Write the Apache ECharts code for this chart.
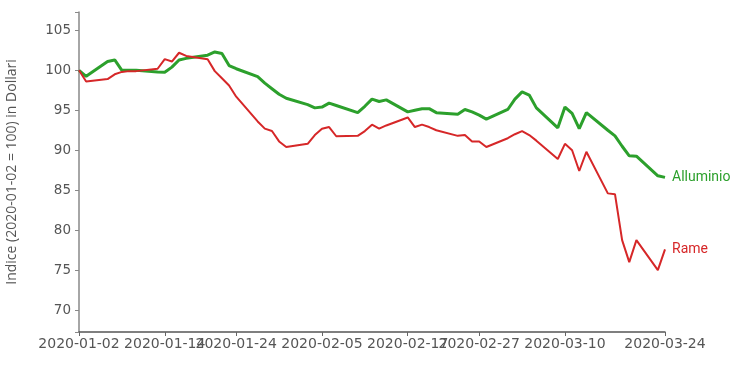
<!DOCTYPE html>
<html lang="it">
<head>
    <meta charset="UTF-8">
    <title>Alluminio e Rame</title>
    <style>
        html, body { margin: 0; padding: 0; background: #fff; }
        #main { width: 741px; height: 370px; }
    </style>
</head>
<body>
<div id="main"></div>
<script src="https://cdn.jsdelivr.net/npm/echarts@6/dist/echarts.min.js"></script>
<script>
    // giorni lavorativi (date dei punti)
    var dates = [
        '2020-01-02','2020-01-03','2020-01-06','2020-01-07','2020-01-08','2020-01-09','2020-01-10',
        '2020-01-13','2020-01-14','2020-01-15','2020-01-16','2020-01-17',
        '2020-01-20','2020-01-21','2020-01-22','2020-01-23','2020-01-24',
        '2020-01-27','2020-01-28','2020-01-29','2020-01-30','2020-01-31',
        '2020-02-03','2020-02-04','2020-02-05','2020-02-06','2020-02-07',
        '2020-02-10','2020-02-11','2020-02-12','2020-02-13','2020-02-14',
        '2020-02-17','2020-02-18','2020-02-19','2020-02-20','2020-02-21',
        '2020-02-24','2020-02-25','2020-02-26','2020-02-27','2020-02-28',
        '2020-03-02','2020-03-03','2020-03-04','2020-03-05','2020-03-06',
        '2020-03-09','2020-03-10','2020-03-11','2020-03-12','2020-03-13',
        '2020-03-16','2020-03-17','2020-03-18','2020-03-19','2020-03-20',
        '2020-03-23','2020-03-24'
    ];
    var alluminio = [
        100.0, 99.25, 101.1, 101.3, 100.0, 100.0, 100.0,
        99.8, 99.75, 100.4, 101.3, 101.5,
        101.9, 102.3, 102.1, 100.6, 100.2,
        99.2, 98.4, 97.7, 97.0, 96.5,
        95.7, 95.3, 95.4, 95.9, 95.6,
        94.7, 95.5, 96.4, 96.1, 96.3,
        94.8, 95.0, 95.2, 95.2, 94.7,
        94.5, 95.1, 94.8, 94.4, 93.9,
        95.1, 96.4, 97.3, 96.9, 95.3,
        92.8, 95.4, 94.6, 92.7, 94.7,
        92.5, 91.8, 90.5, 89.3, 89.25,
        86.8, 86.6
    ];
    var rame = [
        100.0, 98.6, 98.9, 99.5, 99.8, 99.9, 99.9,
        100.2, 101.4, 101.1, 102.2, 101.8,
        101.4, 99.9, 99.0, 98.1, 96.7,
        93.6, 92.7, 92.4, 91.1, 90.4,
        90.8, 91.9, 92.7, 92.9, 91.75,
        91.8, 92.4, 93.2, 92.7, 93.1,
        94.1, 92.9, 93.2, 92.9, 92.5,
        91.8, 91.9, 91.1, 91.1, 90.4,
        91.5, 92.0, 92.4, 91.9, 91.2,
        88.9, 90.8, 90.0, 87.4, 89.8,
        84.6, 84.5, 78.75, 76.0, 78.75,
        75.0, 77.6
    ];
    var xTickDates = ['2020-01-02','2020-01-14','2020-01-24','2020-02-05','2020-02-17','2020-02-27','2020-03-10','2020-03-24'];
    var yTicks = [70, 75, 80, 85, 90, 95, 100, 105];
    var yMin = 67.25, yMax = 107.3;

    // giorni dal primo punto
    var DAY = 86400000;
    function dayNum(s) {
        var p = s.split('-');
        return Date.UTC(+p[0], +p[1] - 1, +p[2]);
    }
    var t0 = dayNum(dates[0]);
    function toX(s) { return (dayNum(s) - t0) / DAY; }
    function toDate(v) {
        var d = new Date(t0 + Math.round(v) * DAY);
        var m = d.getUTCMonth() + 1, g = d.getUTCDate();
        return d.getUTCFullYear() + '-' + (m < 10 ? '0' : '') + m + '-' + (g < 10 ? '0' : '') + g;
    }
    var xTicks = xTickDates.map(toX);
    var xMax = toX(dates[dates.length - 1]);

    var myChart = echarts.init(document.getElementById('main'));
    var option = {
        animation: false,
        grid: { left: 79, right: 76, top: 12, bottom: 38, outerBoundsMode: 'none', containLabel: false },
        xAxis: {
            type: 'value',
            min: 0,
            max: xMax,
            splitLine: { show: false },
            axisLine: { lineStyle: { color: '#555', width: 1.5 } },
            axisTick: { customValues: xTicks, length: 4, lineStyle: { color: '#666' } },
            axisLabel: {
                customValues: xTicks,
                margin: 5,
                fontFamily: 'DejaVu Sans', fontSize: 14, color: '#555',
                formatter: function (v) { return toDate(v); }
            }
        },
        yAxis: {
            type: 'value',
            min: yMin,
            max: yMax,
            name: 'Indice (2020-01-02 = 100) in Dollari',
            nameLocation: 'middle',
            nameGap: 60,
            nameTextStyle: { fontFamily: 'Open Sans', fontSize: 14, color: '#555' },
            splitLine: { show: false },
            axisLine: { show: true, lineStyle: { color: '#888', width: 1.5 } },
            axisTick: { show: true, customValues: [yMin].concat(yTicks, [yMax]), length: 4, lineStyle: { color: '#888' } },
            axisLabel: { customValues: yTicks, margin: 8, fontFamily: 'DejaVu Sans', fontSize: 13.5, color: '#555' }
        },
        series: [{
            name: 'Alluminio',
            type: 'line',
            data: dates.map(function (d, i) { return [toX(d), alluminio[i]]; }),
            showSymbol: false,
            lineStyle: { color: '#2ca02c', width: 3 },
            itemStyle: { color: '#2ca02c' },
            endLabel: { show: true, formatter: '{a}', color: '#2ca02c', fontFamily: 'Roboto', fontSize: 14, distance: 7 }
        }, {
            name: 'Rame',
            type: 'line',
            data: dates.map(function (d, i) { return [toX(d), rame[i]]; }),
            showSymbol: false,
            lineStyle: { color: '#d62728', width: 2 },
            itemStyle: { color: '#d62728' },
            endLabel: { show: true, formatter: '{a}', color: '#d62728', fontFamily: 'Roboto', fontSize: 14, distance: 7 }
        }]
    };
    myChart.setOption(option);
</script>
</body>
</html>
